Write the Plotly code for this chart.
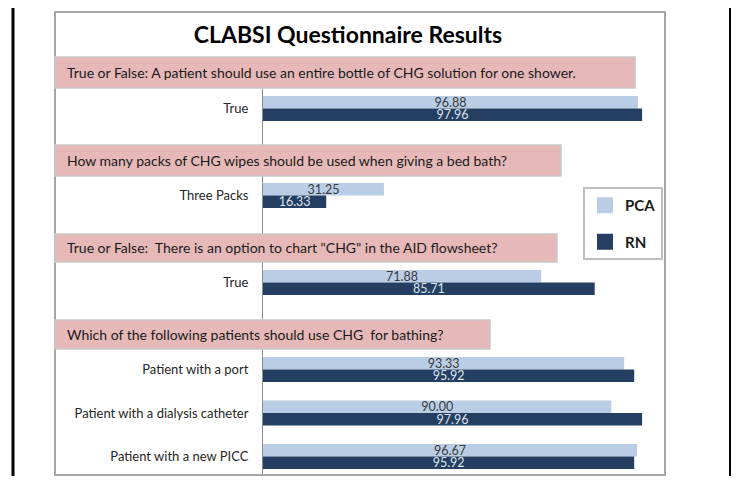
import plotly.graph_objects as go

# ---------------- data ----------------
title_text = "CLABSI Questionnaire Results"
questions = [
    "True or False: A patient should use an entire bottle of CHG solution for one shower.",
    "How many packs of CHG wipes should be used when giving a bed bath?",
    "True or False:  There is an option to chart \"CHG\" in the AID flowsheet?",
    "Which of the following patients should use CHG  for bathing?",
]
categories = ["True", "Three Packs", "True",
              "Patient with a port", "Patient with a dialysis catheter", "Patient with a new PICC"]
category_question = [0, 1, 2, 3, 3, 3]
pca_values = [96.88, 31.25, 71.88, 93.33, 90.00, 96.67]
rn_values = [97.96, 16.33, 85.71, 95.92, 97.96, 95.92]
series_names = ["PCA", "RN"]

# ---------------- style / layout ----------------
PAGE_W, PAGE_H = 740, 484
OFF = 8  # page body margin
W, H = PAGE_W - OFF, PAGE_H - 2 * OFF
FONT = "Lato"
PCA_COLOR = "#b9cde5"
RN_COLOR = "#243f62"
PINK = "#e6b9b8"

def px(x):
    return (x - OFF) / W

def py(y):
    return (H - (y - OFF)) / H

PPU = 43.5  # pixels per category unit
# (domain top px, domain bottom px, center px of first category)
sections = [(88, 145, 108.5), (176, 234, 195.5), (262, 320, 282.5), (349, 475, 369.5)]
header_boxes = [(55, 635, 57, 88), (55, 561, 145, 176), (55, 557, 234, 262), (55, 490, 320, 349)]

fig = go.Figure()
layout_axes = {}
for qi, (top, bot, ctr) in enumerate(sections):
    cats = [c for c, q in zip(categories, category_question) if q == qi]
    pca = [v for v, q in zip(pca_values, category_question) if q == qi]
    rn = [v for v, q in zip(rn_values, category_question) if q == qi]
    yname = "y" if qi == 0 else f"y{qi+1}"
    fig.add_trace(go.Bar(
        y=cats, x=pca, orientation="h", name=series_names[0], yaxis=yname, xaxis="x",
        marker=dict(color=PCA_COLOR, line=dict(width=0)), showlegend=False,
        texttemplate="%{x:.2f}", textposition="inside", insidetextanchor="middle",
        constraintext="none", textfont=dict(family=FONT, size=12.5, color="#3a3a3a"),
        hoverinfo="x+y"))
    fig.add_trace(go.Bar(
        y=cats, x=rn, orientation="h", name=series_names[1], yaxis=yname, xaxis="x",
        marker=dict(color=RN_COLOR, line=dict(width=0)), showlegend=False,
        texttemplate="%{x:.2f}", textposition="inside", insidetextanchor="middle",
        constraintext="none", textfont=dict(family=FONT, size=12.5, color="#dde4ee"),
        hoverinfo="x+y"))
    t_val = -(ctr - top) / PPU
    b_val = t_val + (bot - top) / PPU
    key = "yaxis" if qi == 0 else f"yaxis{qi+1}"
    layout_axes[key] = dict(
        domain=[py(bot), py(top)], anchor="x", type="category",
        categoryorder="array", categoryarray=cats,
        range=[b_val, t_val], showgrid=False, zeroline=False,
        showline=True, linecolor="#8c8c8c", linewidth=1,
        ticks="", ticklabelstandoff=11,
        tickfont=dict(family=FONT, size=13, color="#262626"), fixedrange=True)

# legend proxies
for name, col, grp in [(series_names[0], PCA_COLOR, "a"), (series_names[1], RN_COLOR, "b")]:
    fig.add_trace(go.Scatter(x=[None], y=[None], mode="markers", name=name, legendgroup=grp,
                             marker=dict(symbol="square", size=16, color=col), xaxis="x", yaxis="y"))

shapes = []
# outer black edges
shapes.append(dict(type="line", xref="paper", yref="paper", x0=px(13), x1=px(13), y0=0, y1=1,
                   line=dict(color="black", width=3)))
shapes.append(dict(type="line", xref="paper", yref="paper", x0=px(730), x1=px(730), y0=0, y1=1,
                   line=dict(color="black", width=2)))
# chart border
shapes.append(dict(type="rect", xref="paper", yref="paper", x0=px(55), x1=px(665), y0=py(475), y1=py(12),
                   line=dict(color="#a6a6a6", width=2), fillcolor="rgba(0,0,0,0)", layer="above"))
annotations = []
for (x0, x1, y0, y1), q in zip(header_boxes, questions):
    shapes.append(dict(type="rect", xref="paper", yref="paper", x0=px(x0), x1=px(x1), y0=py(y1), y1=py(y0),
                       fillcolor=PINK, line=dict(color="#c9c9c9", width=1.5), layer="above"))
    annotations.append(dict(xref="paper", yref="paper", x=px(65), y=py((y0 + y1) / 2), text=q,
                            showarrow=False, xanchor="left", yanchor="middle",
                            font=dict(family=FONT, size=14, color="#1a1a1a")))

fig.update_layout(
    width=W, height=H, margin=dict(l=0, r=0, t=0, b=0),
    paper_bgcolor="white", plot_bgcolor="rgba(0,0,0,0)",
    barmode="group", bargap=0.425, bargroupgap=0,
    xaxis=dict(domain=[px(263), px(650)], range=[0, 100], visible=False, fixedrange=True),
    title=dict(text=title_text, x=px(348), xanchor="center", y=py(35), yanchor="middle",
               font=dict(family=FONT, size=23, color="black", weight="bold")),
    legend=dict(x=px(583), y=py(187), xanchor="left", yanchor="top",
                bordercolor="#bfbfbf", borderwidth=2, bgcolor="white",
                font=dict(family=FONT, size=15, color="#1a1a1a", weight="bold"),
                tracegroupgap=14, itemclick=False, itemdoubleclick=False),
    shapes=shapes, annotations=annotations, showlegend=True,
    **layout_axes)

fig.write_html("out.html")
